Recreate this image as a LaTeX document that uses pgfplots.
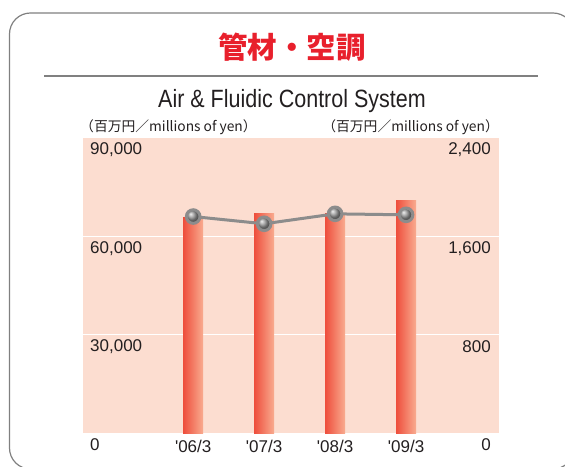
\documentclass[border=0pt]{standalone}
\usepackage{pgfplots}
\pgfplotsset{compat=1.18}
\usepackage{fontspec}
\setmainfont{Liberation Sans}
\newfontfamily\cjk{Noto Sans CJK JP}
\newfontfamily\condfont[FakeStretch=0.86]{Liberation Sans}
\definecolor{pinkbg}{RGB}{252,221,208}
\definecolor{barL}{RGB}{238,78,60}
\definecolor{barR}{RGB}{249,172,144}
\definecolor{titlered}{RGB}{232,32,44}
\definecolor{frameg}{RGB}{128,128,128}
\definecolor{lineg}{RGB}{140,140,140}
\definecolor{txt}{RGB}{35,31,32}
\begin{document}
\begin{tikzpicture}[x=1pt,y=1pt]
\useasboundingbox (0,0) rectangle (565,466);
\clip (0,0) rectangle (565,466);
\draw[frameg, line width=1.2pt, rounded corners=21pt] (9.5,-3) rectangle (574,453);
\node[text=titlered, font=\cjk\bfseries\fontsize{29.5}{32}\selectfont] at (292,419) {管材・空調};
\draw[frameg, line width=2pt] (44,390) -- (538,390);
\node[font=\condfont\fontsize{25}{28}\selectfont, text=txt] at (292,365) {Air \& Fluidic Control System};
\node[font=\cjk\fontsize{13.8}{15}\selectfont, anchor=west, inner sep=0pt, text=txt] at (80,339) {（百万円／millions of yen）};
\node[font=\cjk\fontsize{13.8}{15}\selectfont, anchor=east, inner sep=0pt, text=txt] at (499,339) {（百万円／millions of yen）};
\begin{axis}[at={(83pt,33pt)}, anchor=south west, scale only axis,
  width=416pt, height=295pt,
  xmin=-0.553, xmax=5.31, ymin=0, ymax=90000,
  axis background/.style={fill=pinkbg},
  axis line style={draw=none}, major tick length=0,
  ytick={0,30000,60000,90000}, scaled y ticks=false,
  extra y ticks={30000,60000}, extra y tick labels={},
  extra y tick style={grid=major},
  grid style={white, line width=1.5pt},
  xtick={1,2,3,4},
  xticklabels={\textquotesingle 06/3,\textquotesingle 07/3,\textquotesingle 08/3,\textquotesingle 09/3},
  xticklabel style={inner sep=0pt, yshift=-7pt},
  yticklabel style={anchor=west, inner sep=0pt, xshift=7pt, yshift=-12pt},
  /pgf/number format/assume math mode=true,
  /pgf/number format/1000 sep={,},
  tick label style={font=\fontsize{17}{20}\selectfont, text=txt},
  clip=false]
\addplot[ybar, bar width=20pt, draw=none, left color=barL, right color=barR] coordinates {(1,65800)};
\addplot[ybar, bar width=20pt, draw=none, left color=barL, right color=barR] coordinates {(2,67000)};
\addplot[ybar, bar width=20pt, draw=none, left color=barL, right color=barR] coordinates {(3,67000)};
\addplot[ybar, bar width=20pt, draw=none, left color=barL, right color=barR] coordinates {(4,70900)};
\end{axis}
\begin{axis}[at={(83pt,33pt)}, anchor=south west, scale only axis,
  width=416pt, height=295pt,
  xmin=-0.553, xmax=5.31, ymin=0, ymax=2400,
  hide x axis,
  axis line style={draw=none}, major tick length=0,
  ytick={0,800,1600,2400},
  yticklabel pos=right,
  yticklabel style={anchor=east, inner sep=0pt, xshift=-8pt, yshift=-12pt},
  /pgf/number format/assume math mode=true,
  /pgf/number format/1000 sep={,},
  tick label style={font=\fontsize{17}{20}\selectfont, text=txt},
  clip=false]
\addplot[lineg, line width=3pt, mark=ball, mark size=6.8pt, mark options={ball color=gray!85}]
  coordinates {(1,1761) (2,1702) (3,1783) (4,1775)};
\end{axis}
\end{tikzpicture}
\end{document}
